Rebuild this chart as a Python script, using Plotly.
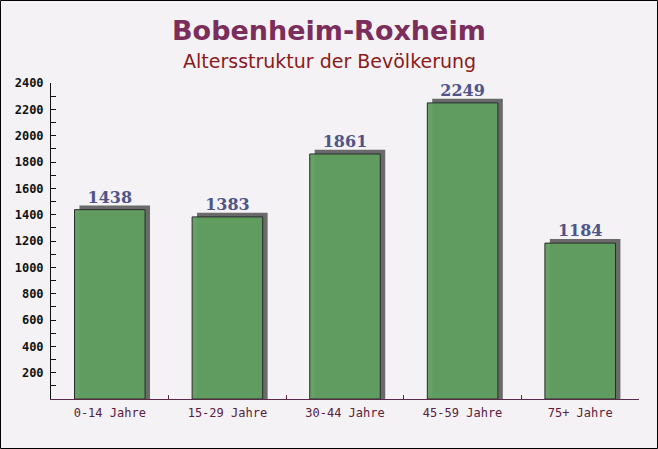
import plotly.graph_objects as go

categories = ["0-14 Jahre", "15-29 Jahre", "30-44 Jahre", "45-59 Jahre", "75+ Jahre"]
values = [1438, 1383, 1861, 2249, 1184]
ytick_vals = [200, 400, 600, 800, 1000, 1200, 1400, 1600, 1800, 2000, 2200, 2400]
ytick_text = ["<b>%d</b>" % v for v in ytick_vals]

W, H = 658, 449
ML, MR, MT, MB = 51, 19, 83, 50
PW, PH = W - ML - MR, H - MT - MB
XC = (W / 2 - ML) / PW

fig = go.Figure()

# shadow bars (3D effect)
fig.add_trace(go.Bar(
    x=categories, y=[v + 32 for v in values],
    width=0.6, offset=-0.3 + 0.042,
    marker=dict(color="#6a6a6a", line=dict(width=0)),
    hoverinfo="skip", showlegend=False,
))
# main bars
fig.add_trace(go.Bar(
    x=categories, y=values,
    width=0.6, offset=-0.3,
    marker=dict(color="rgba(96,158,96,0.96)", line=dict(color="#2b2b2b", width=1)),
    text=[str(v) for v in values], textposition="outside",
    textfont=dict(family="DejaVu Serif", size=16, color="#4f5588"),
    texttemplate="<b>%{text}</b>",
    cliponaxis=False, showlegend=False,
))

fig.update_layout(
    width=W, height=H,
    margin=dict(l=ML, r=MR, t=MT, b=MB),
    paper_bgcolor="#f4f2f4", plot_bgcolor="rgba(0,0,0,0)",
    barmode="overlay",
    annotations=[
        dict(text="<b>Bobenheim-Roxheim</b>", xref="paper", yref="paper",
             x=XC, y=1 + (MT - 30) / PH, xanchor="center", yanchor="middle",
             showarrow=False, font=dict(family="DejaVu Sans", size=27, color="#7b2d5c")),
        dict(text="Altersstruktur der Bevölkerung", xref="paper", yref="paper",
             x=XC, y=1 + (MT - 61) / PH, xanchor="center", yanchor="middle",
             showarrow=False, font=dict(family="DejaVu Sans", size=19, color="#8b1a1a")),
    ],
    xaxis=dict(
        showgrid=False, showline=True, linecolor="#5a2a48", linewidth=1,
        ticks="inside", ticklen=4, tickcolor="#5a2a48", tickson="boundaries",
        tickfont=dict(family="DejaVu Sans Mono", size=12, color="#5a2040"),
        range=[-0.5, 4.5], ticklabelstandoff=3,
    ),
    yaxis=dict(
        range=[0, 2400], showgrid=False, showline=True, linecolor="#111", linewidth=1,
        tickvals=ytick_vals, ticktext=ytick_text,
        ticks="inside", ticklen=5, tickcolor="#111",
        minor=dict(ticks="inside", ticklen=5, dtick=100, tickcolor="#111"),
        tickfont=dict(family="DejaVu Sans Mono", size=12, color="#111"),
        ticklabelstandoff=4, zeroline=False,
    ),
    shapes=[dict(
        type="rect", xref="paper", yref="paper",
        x0=-ML / PW + 0.5 / PW, x1=1 + (MR - 0.5) / PW,
        y0=-MB / PH + 0.5 / PH, y1=1 + (MT - 0.5) / PH,
        line=dict(color="#000", width=1), fillcolor="rgba(0,0,0,0)", layer="above",
    )],
)

fig.write_html("out.html", config={"displayModeBar": False},
               post_script="document.body.style.margin='0';document.body.style.overflow='hidden';")
